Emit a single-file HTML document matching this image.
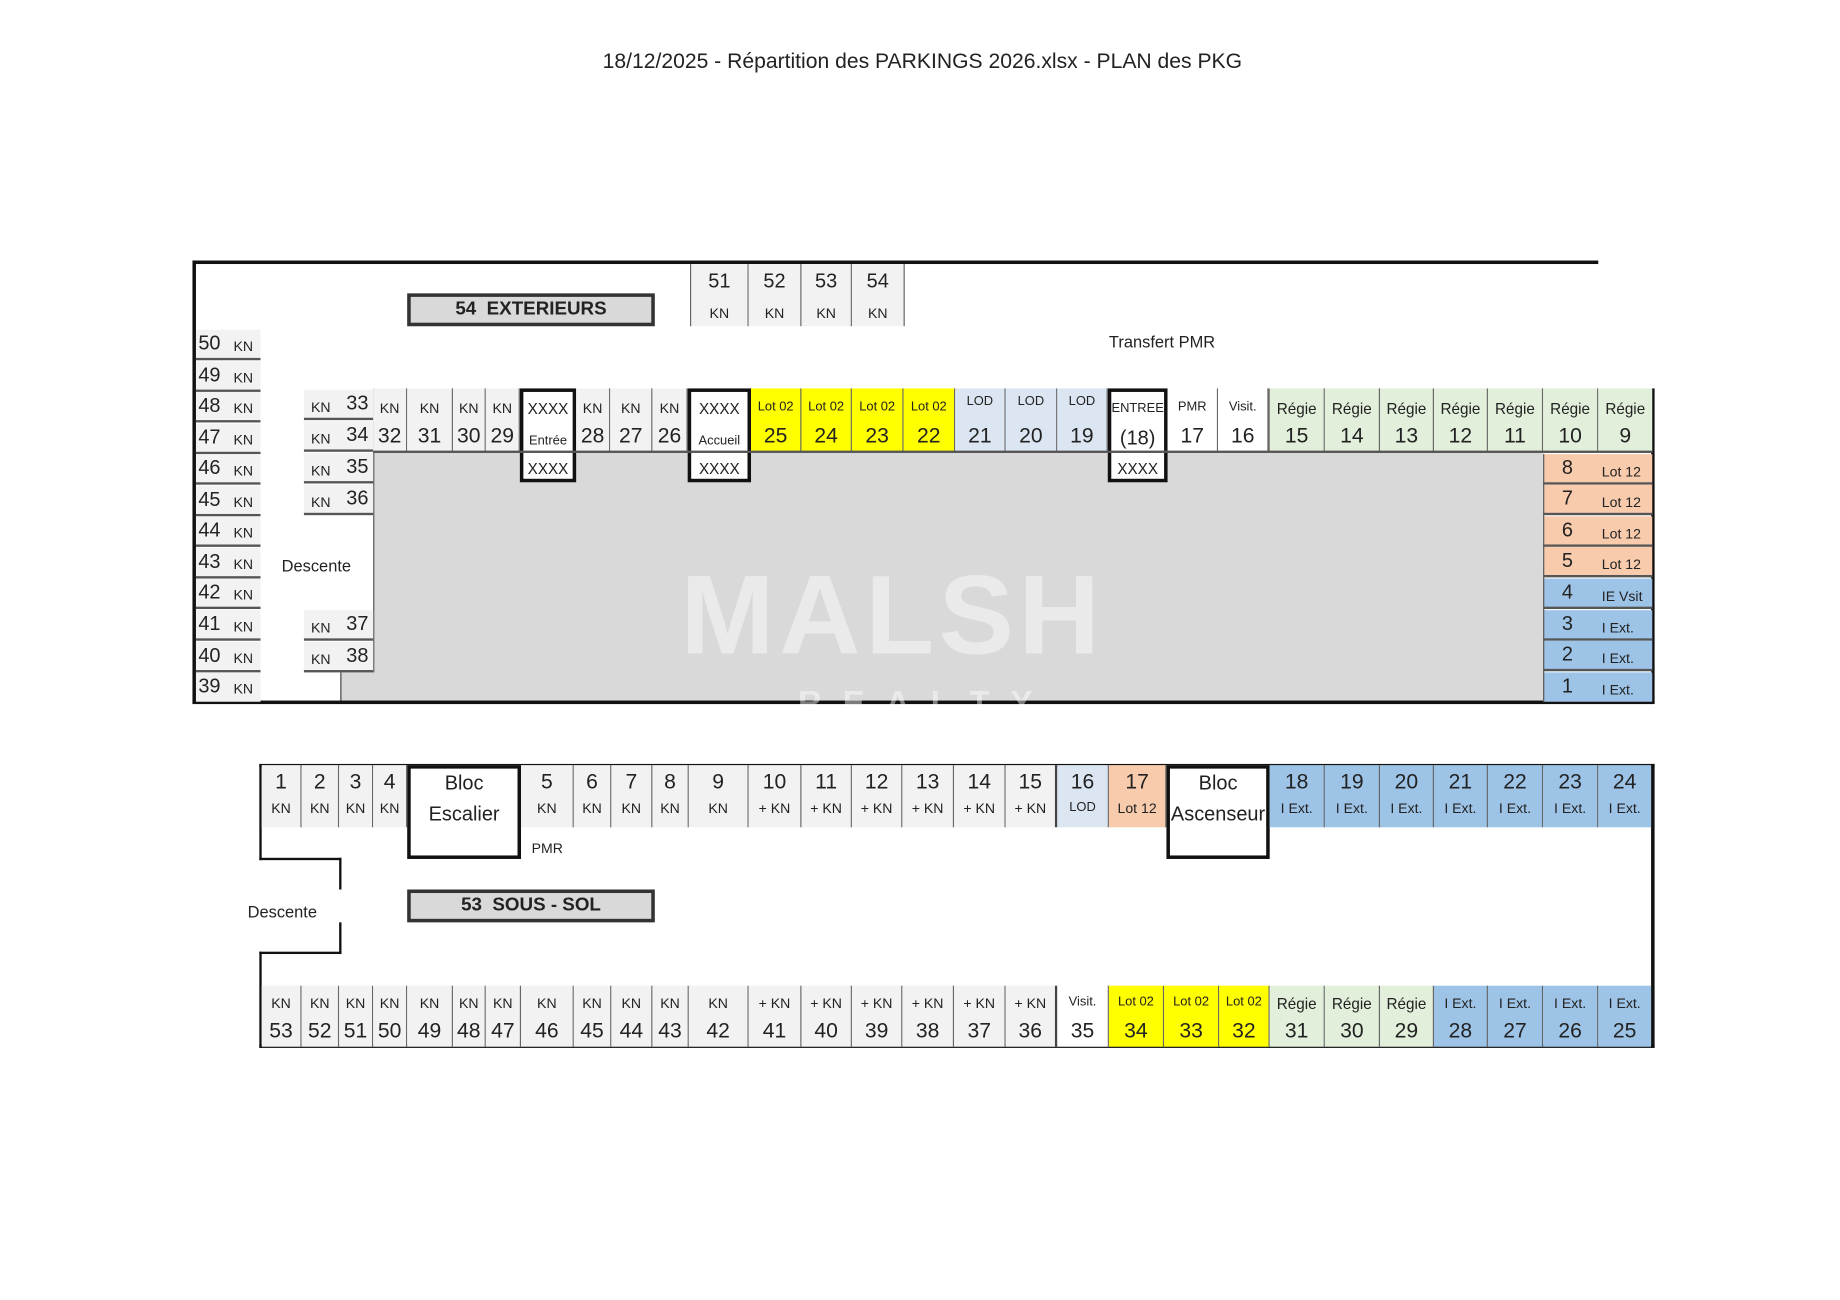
<!DOCTYPE html>
<html><head><meta charset="utf-8"><style>
html,body{margin:0;padding:0;background:#fff;width:1840px;height:1300px;overflow:hidden}
#w{position:absolute;left:0;top:0;width:1568px;height:1108px;transform:scale(1.17347);transform-origin:0 0;font-family:"Liberation Sans",sans-serif;color:#222}
div{position:absolute;box-sizing:border-box}
.c{background:#f2f2f2;border-right:1px solid #666;text-align:center;overflow:hidden}
.c span{position:absolute;left:0;width:100%;text-align:center;white-space:nowrap}
.u{top:331px;height:54px}
.u .t{top:10px;font-size:12px}
.u .n{top:30px;font-size:18px}
.bx{background:#fff;border:3px solid #111;top:331px;height:80px;text-align:center;font-size:13px}
.bx span{position:absolute;left:0;width:100%;text-align:center;white-space:nowrap}
.y{background:#ffff00}.b{background:#dce6f2}.g{background:#e2efda}.w{background:#fff}.s{background:#f8cbad}.bl{background:#9dc3e6}
.lc{left:167px;width:55px;height:26px;background:#f2f2f2;border-bottom:2px solid #555}
.lc .n{position:absolute;left:2px;top:2px;font-size:17px}
.lc .k{position:absolute;left:32px;top:7px;font-size:12px}
.mc{left:259px;width:59px;height:26px;background:#f2f2f2;border-bottom:2px solid #555}
.mc .k{position:absolute;left:6px;top:8px;font-size:12px}
.mc .n{position:absolute;right:4px;top:2px;font-size:17px}
.rc{left:1315px;width:93px;height:26px;border-bottom:2px solid #555}
.rc .n{position:absolute;left:16px;top:2px;font-size:17px}
.rc .k{position:absolute;left:50px;top:8px;font-size:12px}
.lt{top:652px;height:53px}
.lt .n{top:4px;font-size:18px}
.lt .t{top:30px;font-size:12px}
.lb{top:840px;height:52px}
.lb .t{top:8px;font-size:12px}
.lb .n{top:28px;font-size:18px}
.k1{background:#111}
.lab{background:#d9d9d9;border:3px solid #333;text-align:center;font-weight:bold;font-size:16px;line-height:21px}
</style></head><body><div id="w">
<div style="left:0;top:42px;width:1572px;text-align:center;font-size:18px">18/12/2025 - Répartition des PARKINGS 2026.xlsx - PLAN des PKG</div>

<div style="left:318px;top:385px;width:997px;height:213px;background:#d9d9d9"></div>
<div style="left:290px;top:573px;width:30px;height:25px;background:#d9d9d9;border-left:1px solid #444"></div>
<div class="k1" style="left:165px;top:222px;width:1197px;height:3px"></div>
<div class="k1" style="left:164px;top:222px;width:3px;height:377px"></div>
<div class="k1" style="left:164px;top:597px;width:1246px;height:3px"></div>
<div class="k1" style="left:1407px;top:331px;width:3px;height:268px"></div>
<div style="left:318px;top:331px;width:1px;height:242px;background:#555"></div>

<div class="c" style="left:588px;top:225px;width:50px;height:53px;border-left:1px solid #666"><span style="top:5px;font-size:17px">51</span><span style="top:35px;font-size:12px">KN</span></div>
<div class="c" style="left:638px;top:225px;width:45px;height:53px"><span style="top:5px;font-size:17px">52</span><span style="top:35px;font-size:12px">KN</span></div>
<div class="c" style="left:683px;top:225px;width:43px;height:53px"><span style="top:5px;font-size:17px">53</span><span style="top:35px;font-size:12px">KN</span></div>
<div class="c" style="left:726px;top:225px;width:45px;height:53px"><span style="top:5px;font-size:17px">54</span><span style="top:35px;font-size:12px">KN</span></div>

<div class="lab" style="left:347px;top:250px;width:211px;height:28px">54&nbsp; EXTERIEURS</div>
<div style="left:945px;top:283px;font-size:14px">Transfert PMR</div>

<div class="lc" style="top:281px"><span class="n">50</span><span class="k">KN</span></div>
<div class="lc" style="top:308px"><span class="n">49</span><span class="k">KN</span></div>
<div class="lc" style="top:334px"><span class="n">48</span><span class="k">KN</span></div>
<div class="lc" style="top:361px"><span class="n">47</span><span class="k">KN</span></div>
<div class="lc" style="top:387px"><span class="n">46</span><span class="k">KN</span></div>
<div class="lc" style="top:414px"><span class="n">45</span><span class="k">KN</span></div>
<div class="lc" style="top:440px"><span class="n">44</span><span class="k">KN</span></div>
<div class="lc" style="top:467px"><span class="n">43</span><span class="k">KN</span></div>
<div class="lc" style="top:493px"><span class="n">42</span><span class="k">KN</span></div>
<div class="lc" style="top:520px"><span class="n">41</span><span class="k">KN</span></div>
<div class="lc" style="top:547px"><span class="n">40</span><span class="k">KN</span></div>
<div class="lc" style="top:573px;border-bottom:none;height:25px"><span class="n">39</span><span class="k">KN</span></div>

<div class="mc" style="top:332px"><span class="k">KN</span><span class="n">33</span></div>
<div class="mc" style="top:359px"><span class="k">KN</span><span class="n">34</span></div>
<div class="mc" style="top:386px"><span class="k">KN</span><span class="n">35</span></div>
<div class="mc" style="top:413px"><span class="k">KN</span><span class="n">36</span></div>
<div class="mc" style="top:520px"><span class="k">KN</span><span class="n">37</span></div>
<div class="mc" style="top:547px"><span class="k">KN</span><span class="n">38</span></div>
<div style="left:240px;top:474px;font-size:14px">Descente</div>

<div class="c u" style="left:318px;width:29px"><span class="t">KN</span><span class="n">32</span></div>
<div class="c u" style="left:347px;width:39px"><span class="t">KN</span><span class="n">31</span></div>
<div class="c u" style="left:386px;width:28px"><span class="t">KN</span><span class="n">30</span></div>
<div class="c u" style="left:414px;width:29px"><span class="t">KN</span><span class="n">29</span></div>
<div class="bx" style="left:443px;width:48px"><span style="top:7px">XXXX</span><span style="top:36px;font-size:11px">Entrée</span><span style="top:58px">XXXX</span></div>
<div class="c u" style="left:491px;width:29px"><span class="t">KN</span><span class="n">28</span></div>
<div class="c u" style="left:520px;width:36px"><span class="t">KN</span><span class="n">27</span></div>
<div class="c u" style="left:556px;width:30px"><span class="t">KN</span><span class="n">26</span></div>
<div class="bx" style="left:586px;width:54px"><span style="top:7px">XXXX</span><span style="top:36px;font-size:11px">Accueil</span><span style="top:58px">XXXX</span></div>
<div class="c u y" style="left:640px;width:43px"><span class="t" style="font-size:11px">Lot 02</span><span class="n">25</span></div>
<div class="c u y" style="left:683px;width:43px"><span class="t" style="font-size:11px">Lot 02</span><span class="n">24</span></div>
<div class="c u y" style="left:726px;width:44px"><span class="t" style="font-size:11px">Lot 02</span><span class="n">23</span></div>
<div class="c u y" style="left:770px;width:44px"><span class="t" style="font-size:11px">Lot 02</span><span class="n">22</span></div>
<div class="c u b" style="left:814px;width:43px"><span class="t" style="top:5px;font-size:11px">LOD</span><span class="n">21</span></div>
<div class="c u b" style="left:857px;width:44px"><span class="t" style="top:5px;font-size:11px">LOD</span><span class="n">20</span></div>
<div class="c u b" style="left:901px;width:43px"><span class="t" style="top:5px;font-size:11px">LOD</span><span class="n">19</span></div>
<div class="bx" style="left:944px;width:51px"><span style="top:8px;font-size:11px">ENTREE</span><span style="top:30px;font-size:17px">(18)</span><span style="top:58px">XXXX</span></div>
<div class="c u w" style="left:995px;width:43px"><span class="t" style="font-size:11px">PMR</span><span class="n">17</span></div>
<div class="c u w" style="left:1038px;width:43px"><span class="t" style="font-size:11px">Visit.</span><span class="n">16</span></div>
<div class="c u g" style="left:1081px;width:48px;border-left:1px solid #666"><span class="t" style="font-size:13px">Régie</span><span class="n">15</span></div>
<div class="c u g" style="left:1129px;width:47px"><span class="t" style="font-size:13px">Régie</span><span class="n">14</span></div>
<div class="c u g" style="left:1176px;width:46px"><span class="t" style="font-size:13px">Régie</span><span class="n">13</span></div>
<div class="c u g" style="left:1222px;width:46px"><span class="t" style="font-size:13px">Régie</span><span class="n">12</span></div>
<div class="c u g" style="left:1268px;width:47px"><span class="t" style="font-size:13px">Régie</span><span class="n">11</span></div>
<div class="c u g" style="left:1315px;width:47px"><span class="t" style="font-size:13px">Régie</span><span class="n">10</span></div>
<div class="c u g" style="left:1362px;width:46px;border-right:none"><span class="t" style="font-size:13px">Régie</span><span class="n">9</span></div>
<div style="left:318px;top:384px;width:1090px;height:2px;background:#555"></div>

<div class="rc s" style="top:387px"><span class="n">8</span><span class="k">Lot 12</span></div>
<div class="rc s" style="top:413px"><span class="n">7</span><span class="k">Lot 12</span></div>
<div class="rc s" style="top:440px"><span class="n">6</span><span class="k">Lot 12</span></div>
<div class="rc s" style="top:466px"><span class="n">5</span><span class="k">Lot 12</span></div>
<div class="rc bl" style="top:493px"><span class="n">4</span><span class="k">IE Vsit</span></div>
<div class="rc bl" style="top:520px"><span class="n">3</span><span class="k">I Ext.</span></div>
<div class="rc bl" style="top:546px"><span class="n">2</span><span class="k">I Ext.</span></div>
<div class="rc bl" style="top:573px;height:25px;border-bottom:none"><span class="n">1</span><span class="k">I Ext.</span></div>
<div style="left:1315px;top:387px;width:1px;height:211px;background:#555"></div>

<div style="left:580px;top:470px;font-size:96px;font-weight:bold;color:rgba(255,255,255,0.45);letter-spacing:4px">MALSH</div>
<div style="left:680px;top:583px;font-size:28px;font-weight:bold;color:rgba(255,255,255,0.45);letter-spacing:18px">REALTY</div>

<div class="k1" style="left:221px;top:651px;width:1189px;height:3px"></div>
<div class="k1" style="left:1407px;top:651px;width:3px;height:242px"></div>
<div class="k1" style="left:221px;top:890px;width:1189px;height:3px"></div>
<div class="k1" style="left:221px;top:651px;width:2px;height:82px"></div>
<div class="k1" style="left:221px;top:731px;width:70px;height:2px"></div>
<div class="k1" style="left:289px;top:731px;width:2px;height:27px"></div>
<div class="k1" style="left:289px;top:786px;width:2px;height:27px"></div>
<div class="k1" style="left:221px;top:811px;width:70px;height:2px"></div>
<div class="k1" style="left:221px;top:811px;width:2px;height:82px"></div>
<div style="left:211px;top:769px;font-size:14px">Descente</div>
<div style="left:453px;top:716px;font-size:12px">PMR</div>
<div class="lab" style="left:347px;top:758px;width:211px;height:28px">53&nbsp; SOUS - SOL</div>

<div class="c lt" style="left:223px;width:34px"><span class="n">1</span><span class="t">KN</span></div>
<div class="c lt" style="left:257px;width:32px"><span class="n">2</span><span class="t">KN</span></div>
<div class="c lt" style="left:289px;width:29px"><span class="n">3</span><span class="t">KN</span></div>
<div class="c lt" style="left:318px;width:29px"><span class="n">4</span><span class="t">KN</span></div>
<div class="bx" style="left:347px;top:652px;width:97px;height:80px;font-size:17px"><span style="top:3px">Bloc</span><span style="top:29px">Escalier</span></div>
<div class="c lt" style="left:444px;width:45px"><span class="n">5</span><span class="t">KN</span></div>
<div class="c lt" style="left:489px;width:32px"><span class="n">6</span><span class="t">KN</span></div>
<div class="c lt" style="left:521px;width:35px"><span class="n">7</span><span class="t">KN</span></div>
<div class="c lt" style="left:556px;width:31px"><span class="n">8</span><span class="t">KN</span></div>
<div class="c lt" style="left:587px;width:51px"><span class="n">9</span><span class="t">KN</span></div>
<div class="c lt" style="left:638px;width:45px"><span class="n">10</span><span class="t">+ KN</span></div>
<div class="c lt" style="left:683px;width:43px"><span class="n">11</span><span class="t">+ KN</span></div>
<div class="c lt" style="left:726px;width:43px"><span class="n">12</span><span class="t">+ KN</span></div>
<div class="c lt" style="left:769px;width:44px"><span class="n">13</span><span class="t">+ KN</span></div>
<div class="c lt" style="left:813px;width:44px"><span class="n">14</span><span class="t">+ KN</span></div>
<div class="c lt" style="left:857px;width:44px;border-right:2px solid #444"><span class="n">15</span><span class="t">+ KN</span></div>
<div class="c lt b" style="left:901px;width:44px"><span class="n">16</span><span class="t" style="font-size:11px">LOD</span></div>
<div class="c lt s" style="left:945px;width:49px"><span class="n">17</span><span class="t">Lot 12</span></div>
<div class="bx" style="left:994px;top:652px;width:88px;height:80px;font-size:17px"><span style="top:3px">Bloc</span><span style="top:29px">Ascenseur</span></div>
<div class="c lt bl" style="left:1082px;width:47px"><span class="n">18</span><span class="t">I Ext.</span></div>
<div class="c lt bl" style="left:1129px;width:47px"><span class="n">19</span><span class="t">I Ext.</span></div>
<div class="c lt bl" style="left:1176px;width:46px"><span class="n">20</span><span class="t">I Ext.</span></div>
<div class="c lt bl" style="left:1222px;width:46px"><span class="n">21</span><span class="t">I Ext.</span></div>
<div class="c lt bl" style="left:1268px;width:47px"><span class="n">22</span><span class="t">I Ext.</span></div>
<div class="c lt bl" style="left:1315px;width:47px"><span class="n">23</span><span class="t">I Ext.</span></div>
<div class="c lt bl" style="left:1362px;width:45px;border-right:none"><span class="n">24</span><span class="t">I Ext.</span></div>

<div class="c lb" style="left:223px;width:34px"><span class="t">KN</span><span class="n">53</span></div>
<div class="c lb" style="left:257px;width:32px"><span class="t">KN</span><span class="n">52</span></div>
<div class="c lb" style="left:289px;width:29px"><span class="t">KN</span><span class="n">51</span></div>
<div class="c lb" style="left:318px;width:29px"><span class="t">KN</span><span class="n">50</span></div>
<div class="c lb" style="left:347px;width:39px"><span class="t">KN</span><span class="n">49</span></div>
<div class="c lb" style="left:386px;width:28px"><span class="t">KN</span><span class="n">48</span></div>
<div class="c lb" style="left:414px;width:30px"><span class="t">KN</span><span class="n">47</span></div>
<div class="c lb" style="left:444px;width:45px"><span class="t">KN</span><span class="n">46</span></div>
<div class="c lb" style="left:489px;width:32px"><span class="t">KN</span><span class="n">45</span></div>
<div class="c lb" style="left:521px;width:35px"><span class="t">KN</span><span class="n">44</span></div>
<div class="c lb" style="left:556px;width:31px"><span class="t">KN</span><span class="n">43</span></div>
<div class="c lb" style="left:587px;width:51px"><span class="t">KN</span><span class="n">42</span></div>
<div class="c lb" style="left:638px;width:45px"><span class="t">+ KN</span><span class="n">41</span></div>
<div class="c lb" style="left:683px;width:43px"><span class="t">+ KN</span><span class="n">40</span></div>
<div class="c lb" style="left:726px;width:43px"><span class="t">+ KN</span><span class="n">39</span></div>
<div class="c lb" style="left:769px;width:44px"><span class="t">+ KN</span><span class="n">38</span></div>
<div class="c lb" style="left:813px;width:44px"><span class="t">+ KN</span><span class="n">37</span></div>
<div class="c lb" style="left:857px;width:44px;border-right:2px solid #444"><span class="t">+ KN</span><span class="n">36</span></div>
<div class="c lb w" style="left:901px;width:44px"><span class="t" style="font-size:11px">Visit.</span><span class="n">35</span></div>
<div class="c lb y" style="left:945px;width:47px"><span class="t" style="font-size:11px">Lot 02</span><span class="n">34</span></div>
<div class="c lb y" style="left:992px;width:47px"><span class="t" style="font-size:11px">Lot 02</span><span class="n">33</span></div>
<div class="c lb y" style="left:1039px;width:43px"><span class="t" style="font-size:11px">Lot 02</span><span class="n">32</span></div>
<div class="c lb g" style="left:1082px;width:47px"><span class="t" style="font-size:13px">Régie</span><span class="n">31</span></div>
<div class="c lb g" style="left:1129px;width:47px"><span class="t" style="font-size:13px">Régie</span><span class="n">30</span></div>
<div class="c lb g" style="left:1176px;width:46px"><span class="t" style="font-size:13px">Régie</span><span class="n">29</span></div>
<div class="c lb bl" style="left:1222px;width:46px"><span class="t">I Ext.</span><span class="n">28</span></div>
<div class="c lb bl" style="left:1268px;width:47px"><span class="t">I Ext.</span><span class="n">27</span></div>
<div class="c lb bl" style="left:1315px;width:47px"><span class="t">I Ext.</span><span class="n">26</span></div>
<div class="c lb bl" style="left:1362px;width:45px;border-right:none"><span class="t">I Ext.</span><span class="n">25</span></div>
</div></body></html>
